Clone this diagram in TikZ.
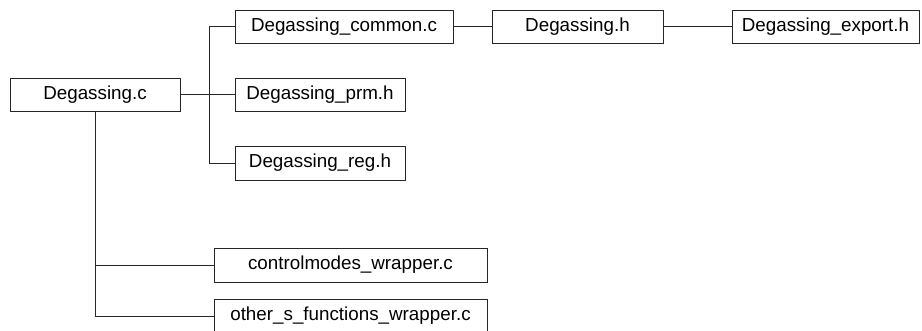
\documentclass[tikz,border=0pt]{standalone}
\usepackage{fontspec}
\setmainfont{Liberation Sans}
\begin{document}
\begin{tikzpicture}[x=1pt,y=-1pt,
  box/.style={draw=black!85, line width=0.9pt, inner sep=0pt, minimum height=33pt, font=\fontsize{18.8}{22}\selectfont, fill=white},
  link/.style={draw=black!85, line width=0.9pt}]
\useasboundingbox (0,0) rectangle (922,330);
\node[box, minimum width=170pt] (A) at (95,94.5) {Degassing.c};
\node[box, minimum width=218pt] (B) at (344,26.5) {Degassing\_common.c};
\node[box, minimum width=171pt] (C) at (577.5,26.5) {Degassing.h};
\node[box, minimum width=187pt] (D) at (825.5,26.5) {Degassing\_export.h};
\node[box, minimum width=170pt] (E) at (320,94.5) {Degassing\_prm.h};
\node[box, minimum width=170pt, minimum height=34pt] (F) at (320,163) {Degassing\_reg.h};
\node[box, minimum width=273pt, minimum height=34pt] (G) at (350.5,265) {controlmodes\_wrapper.c};
\node[box, minimum width=273pt, minimum height=34pt] (H) at (350.5,316) {other\_s\_functions\_wrapper.c};
\coordinate (T1) at (209,26.5);
\coordinate (T2) at (209,163);
\draw[link] (A.east) -- (E.west);
\draw[link] (B.west) -- (T1) -- (T2) -- (F.west);
\draw[link] (B.east) -- (C.west);
\draw[link] (C.east) -- (D.west);
\draw[link] (A.south) |- (H.west);
\draw[link] (A.south |- G.west) -- (G.west);
\end{tikzpicture}
\end{document}
